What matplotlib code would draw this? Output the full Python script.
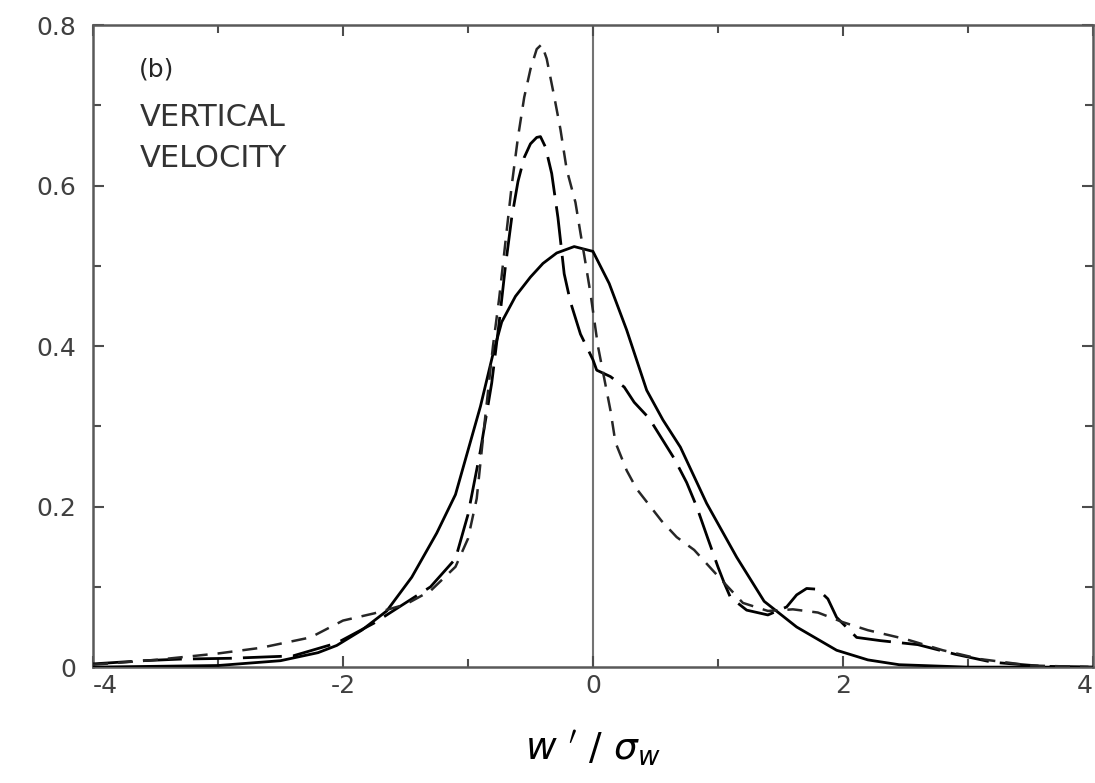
import numpy as np
import matplotlib
matplotlib.use("Agg")
import matplotlib.pyplot as plt

plt.rcParams['axes.unicode_minus'] = False
plt.rcParams['mathtext.fontset'] = 'dejavusans'

# solid curve
x_solid = [-4.0, -3.5, -3.0, -2.5, -2.2, -2.05, -1.85, -1.65, -1.45, -1.25, -1.1, -1.0,
           -0.9, -0.8, -0.73, -0.62, -0.5, -0.4, -0.29, -0.15, 0.0, 0.13, 0.27, 0.43,
           0.56, 0.7, 0.91, 1.15, 1.37, 1.63, 1.95, 2.2, 2.45, 3.0, 3.5, 4.0]
y_solid = [0.0, 0.001, 0.002, 0.008, 0.018, 0.027, 0.046, 0.07, 0.112, 0.167, 0.215, 0.27,
           0.325, 0.39, 0.43, 0.462, 0.486, 0.503, 0.516, 0.524, 0.518, 0.478, 0.42, 0.345,
           0.308, 0.274, 0.204, 0.137, 0.082, 0.05, 0.021, 0.009, 0.003, 0.0, 0.0, 0.0]

# long dashed curve
x_long = [-4.0, -3.6, -3.3, -2.9, -2.4, -2.05, -1.75, -1.5, -1.3, -1.1, -1.0, -0.9,
          -0.81, -0.75, -0.7, -0.65, -0.6, -0.55, -0.5, -0.45, -0.42, -0.38, -0.33, -0.28,
          -0.23, -0.18, -0.1, 0.0, 0.03, 0.14, 0.25, 0.33, 0.45, 0.57, 0.65, 0.75, 0.83, 0.92,
          1.0, 1.05, 1.1, 1.23, 1.4, 1.55, 1.63, 1.71, 1.8, 1.88, 1.95, 2.11, 2.3, 2.6,
          2.9, 3.2, 3.6, 4.0]
y_long = [0.004, 0.008, 0.01, 0.011, 0.014, 0.03, 0.055, 0.08, 0.1, 0.135, 0.19, 0.27,
          0.354, 0.43, 0.5, 0.56, 0.605, 0.635, 0.652, 0.66, 0.661, 0.648, 0.615, 0.56,
          0.49, 0.455, 0.415, 0.383, 0.37, 0.362, 0.349, 0.33, 0.31, 0.28, 0.26, 0.23, 0.2, 0.16,
          0.125, 0.105, 0.087, 0.071, 0.065, 0.075, 0.09, 0.098, 0.097, 0.085, 0.062, 0.037, 0.033, 0.028,
          0.016, 0.006, 0.001, 0.0]

# short dashed curve
x_short = [-4.0, -3.5, -3.0, -2.66, -2.26, -2.0, -1.75, -1.5, -1.3, -1.1, -1.0, -0.93,
           -0.87, -0.8, -0.75, -0.7, -0.65, -0.6, -0.55, -0.5, -0.45, -0.41, -0.37, -0.31,
           -0.26, -0.21, -0.14, -0.1, -0.06, -0.02, 0.04, 0.14, 0.18, 0.27, 0.35, 0.46, 0.55,
           0.67, 0.81, 0.95, 1.05, 1.2, 1.4, 1.6, 1.8, 2.0, 2.2, 2.5, 2.8, 3.1, 3.5, 4.0]
y_short = [0.003, 0.009, 0.017, 0.024, 0.037, 0.058, 0.067, 0.078, 0.095, 0.125, 0.16, 0.21,
           0.3, 0.4, 0.46, 0.53, 0.6, 0.66, 0.71, 0.745, 0.77, 0.776, 0.758, 0.711,
           0.67, 0.62, 0.579, 0.541, 0.504, 0.466, 0.4, 0.32, 0.28, 0.245, 0.222, 0.2, 0.182,
           0.162, 0.146, 0.122, 0.105, 0.08, 0.07, 0.072, 0.068, 0.056, 0.046, 0.035, 0.021, 0.01, 0.002, 0.0]

x_ticks = [-4, -2, 0, 2, 4]
x_tick_labels = ['-4', '-2', '0', '2', '4']
y_ticks = [0, 0.2, 0.4, 0.6, 0.8]
y_tick_labels = ['0', '0.2', '0.4', '0.6', '0.8']

fig = plt.figure(figsize=(10.95, 7.83), dpi=100)
ax = fig.add_axes([0.085, 0.148, 0.913, 0.82])

ax.axvline(0, color='0.45', lw=1.5, zorder=1)
ax.plot(x_solid, y_solid, color='black', lw=2.0, zorder=3)
ax.plot(x_long, y_long, color='black', lw=2.0, dashes=(14, 4), zorder=3)
ax.plot(x_short, y_short, color='0.15', lw=1.8, dashes=(6, 4), zorder=3)

ax.set_xlim(-4, 4)
ax.set_ylim(0, 0.8)
ax.set_xticks(x_ticks)
ax.set_xticklabels(x_tick_labels)
ax.set_xticks(range(-4, 5), minor=True)
ax.set_yticks(y_ticks)
ax.set_yticklabels(y_tick_labels)
ax.set_yticks(np.arange(0, 0.81, 0.1), minor=True)
ax.tick_params(which='both', direction='in', top=True, right=True, color='0.3', width=1.5)
ax.tick_params(which='major', length=8)
ax.tick_params(which='minor', length=6)
ax.tick_params(axis='x', labelsize=18, labelcolor='0.25', pad=5)
ax.tick_params(axis='y', labelsize=18, labelcolor='0.25', pad=12)
xlabs = ax.get_xticklabels()
xlabs[0].set_horizontalalignment('left')
xlabs[-1].set_horizontalalignment('right')
for s in ax.spines.values():
    s.set_color('0.35')
    s.set_linewidth(1.8)

ax.text(-3.63, 0.745, '(b)', fontsize=18, color='0.15', ha='left', va='center')
ax.text(-3.63, 0.685, 'VERTICAL', fontsize=22, color='0.2', ha='left', va='center')
ax.text(-3.63, 0.634, 'VELOCITY', fontsize=22, color='0.2', ha='left', va='center')

ax.set_xlabel(r"$w\ '\ /\ \sigma_w$", fontsize=27, labelpad=22)

fig.savefig('out.png', dpi=100)
